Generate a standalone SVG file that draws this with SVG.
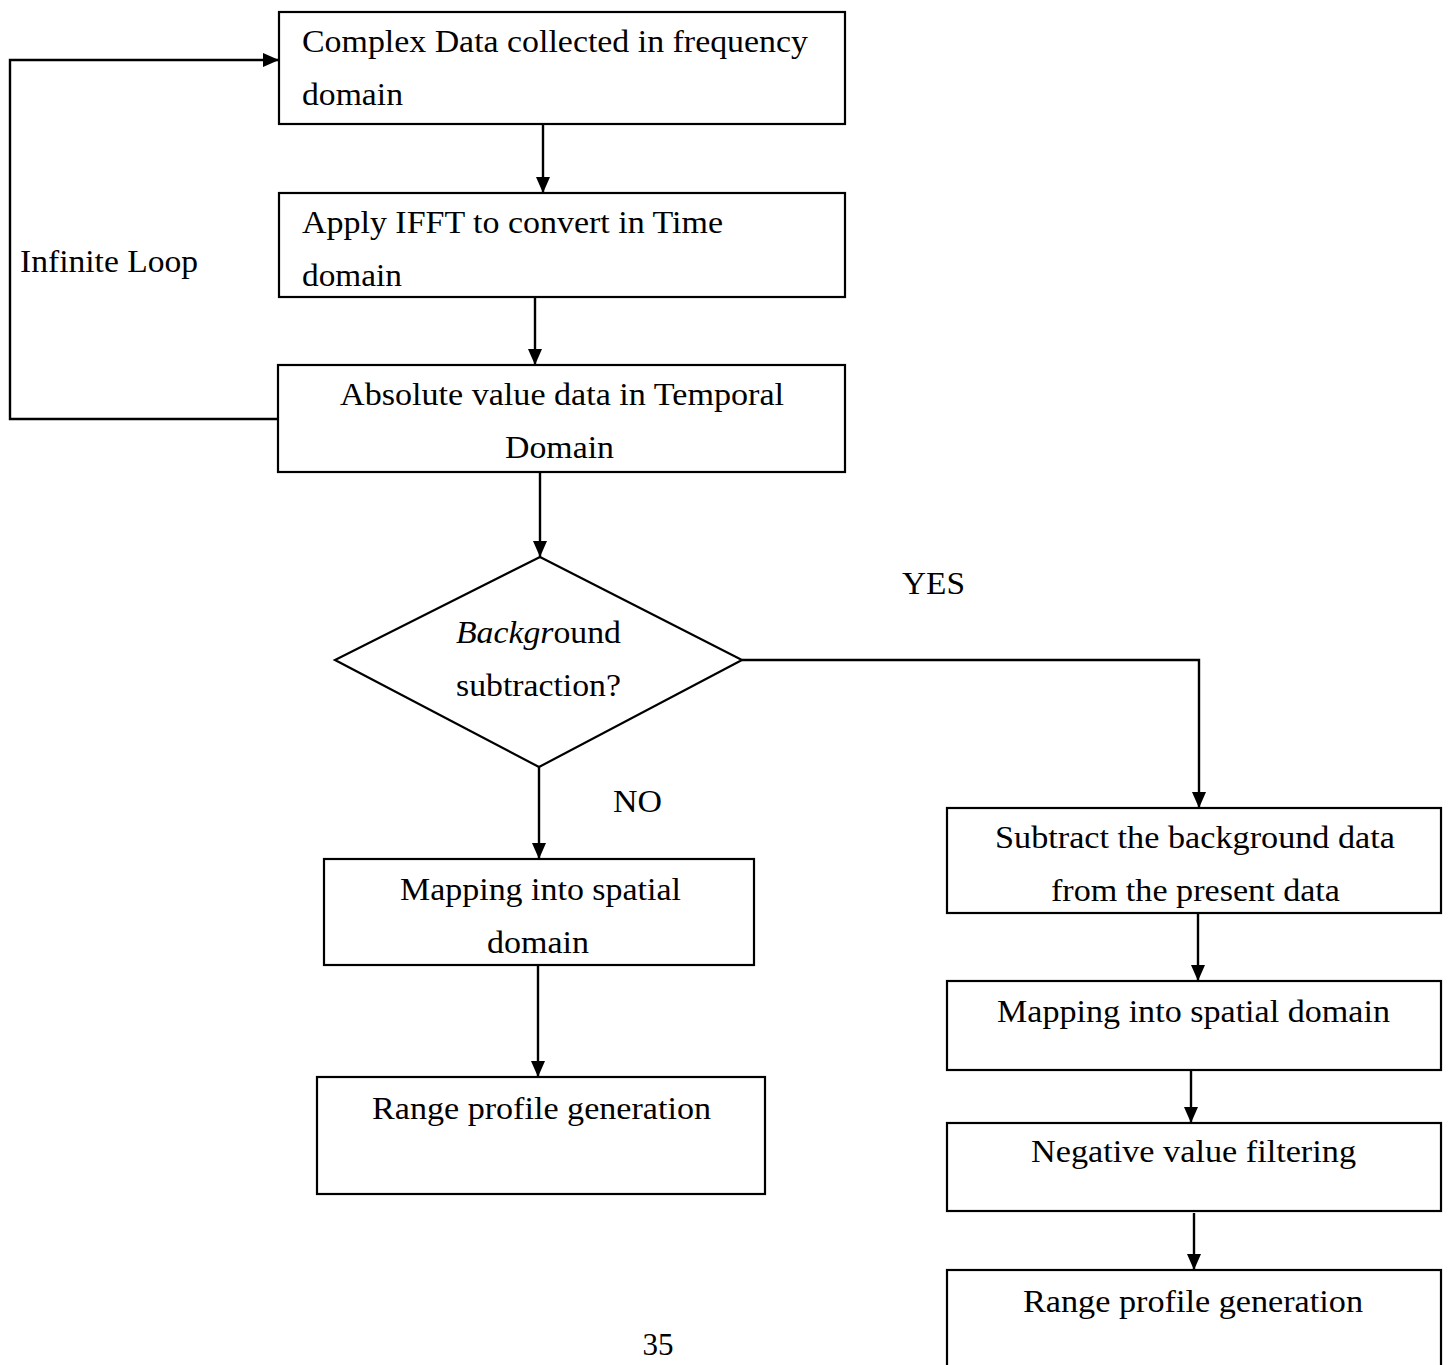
<svg xmlns="http://www.w3.org/2000/svg" width="1449" height="1365" viewBox="0 0 1449 1365">
  <style>
    .box { fill: #fff; stroke: #000; stroke-width: 2.2; }
    .wire { fill: none; stroke: #000; stroke-width: 2.4; }
    .t { font-family: "Liberation Serif", "Times New Roman", serif; font-size: 31px; fill: #000; }
    .c { text-anchor: middle; }
  </style>
  <defs>
    <marker id="arrow" viewBox="0 0 16 14" refX="16" refY="7" markerWidth="16" markerHeight="14" markerUnits="userSpaceOnUse" orient="auto">
      <path d="M0,0 L16,7 L0,14 Z" fill="#000"/>
    </marker>
  </defs>
  <rect width="1449" height="1365" fill="#fff"/>

  <!-- connectors -->
  <g id="connectors">
    <path class="wire" d="M543,124 V193" marker-end="url(#arrow)"/>
    <path class="wire" d="M535,297 V365" marker-end="url(#arrow)"/>
    <path class="wire" d="M540,472 V557" marker-end="url(#arrow)"/>
    <path class="wire" d="M278,419 H10 V60 H279" marker-end="url(#arrow)"/>
    <path class="wire" d="M742,660 H1199 V808" marker-end="url(#arrow)"/>
    <path class="wire" d="M539,767 V859" marker-end="url(#arrow)"/>
    <path class="wire" d="M538,965 V1077" marker-end="url(#arrow)"/>
    <path class="wire" d="M1198,913 V981" marker-end="url(#arrow)"/>
    <path class="wire" d="M1191,1070 V1123" marker-end="url(#arrow)"/>
    <path class="wire" d="M1194,1213 V1270" marker-end="url(#arrow)"/>
  </g>

  <!-- labels on connectors -->
  <text class="t" x="20" y="272" textLength="178" lengthAdjust="spacingAndGlyphs">Infinite Loop</text>
  <text class="t" x="902" y="594" textLength="63" lengthAdjust="spacingAndGlyphs">YES</text>
  <text class="t" x="613" y="812" textLength="49" lengthAdjust="spacingAndGlyphs">NO</text>

  <g id="collect">
    <rect class="box" x="279" y="12" width="566" height="112"/>
    <text class="t" x="302" y="52" textLength="506" lengthAdjust="spacingAndGlyphs">Complex Data collected in frequency</text>
    <text class="t" x="302" y="105" textLength="101" lengthAdjust="spacingAndGlyphs">domain</text>
  </g>

  <g id="ifft">
    <rect class="box" x="279" y="193" width="566" height="104"/>
    <text class="t" x="302" y="233" textLength="421" lengthAdjust="spacingAndGlyphs">Apply IFFT to convert in Time</text>
    <text class="t" x="302" y="286" textLength="100" lengthAdjust="spacingAndGlyphs">domain</text>
  </g>

  <g id="absolute">
    <rect class="box" x="278" y="365" width="567" height="107"/>
    <text class="t" x="340" y="405" textLength="444" lengthAdjust="spacingAndGlyphs">Absolute value data in Temporal</text>
    <text class="t" x="505" y="458" textLength="109" lengthAdjust="spacingAndGlyphs">Domain</text>
  </g>

  <g id="decision">
    <polygon class="box" points="540,557 742,660 539,767 335,660"/>
    <text class="t" x="456" y="643" textLength="165" lengthAdjust="spacingAndGlyphs"><tspan font-style="italic">Backgr</tspan>ound</text>
    <text class="t" x="456" y="696" textLength="165" lengthAdjust="spacingAndGlyphs">subtraction?</text>
  </g>

  <g id="map-left">
    <rect class="box" x="324" y="859" width="430" height="106"/>
    <text class="t" x="400" y="900" textLength="281" lengthAdjust="spacingAndGlyphs">Mapping into spatial</text>
    <text class="t" x="487" y="953" textLength="102" lengthAdjust="spacingAndGlyphs">domain</text>
  </g>

  <g id="range-left">
    <rect class="box" x="317" y="1077" width="448" height="117"/>
    <text class="t" x="372" y="1119" textLength="339" lengthAdjust="spacingAndGlyphs">Range profile generation</text>
  </g>

  <g id="subtract">
    <rect class="box" x="947" y="808" width="494" height="105"/>
    <text class="t" x="995" y="848" textLength="400" lengthAdjust="spacingAndGlyphs">Subtract the background data</text>
    <text class="t" x="1051" y="901" textLength="289" lengthAdjust="spacingAndGlyphs">from the present data</text>
  </g>

  <g id="map-right">
    <rect class="box" x="947" y="981" width="494" height="89"/>
    <text class="t" x="997" y="1022" textLength="393" lengthAdjust="spacingAndGlyphs">Mapping into spatial domain</text>
  </g>

  <g id="negative">
    <rect class="box" x="947" y="1123" width="494" height="88"/>
    <text class="t" x="1031" y="1162" textLength="325" lengthAdjust="spacingAndGlyphs">Negative value filtering</text>
  </g>

  <g id="range-right">
    <rect class="box" x="947" y="1270" width="494" height="110"/>
    <text class="t" x="1023" y="1312" textLength="340" lengthAdjust="spacingAndGlyphs">Range profile generation</text>
  </g>

  <!-- page number -->
  <text class="t c" x="658" y="1355">35</text>
</svg>
